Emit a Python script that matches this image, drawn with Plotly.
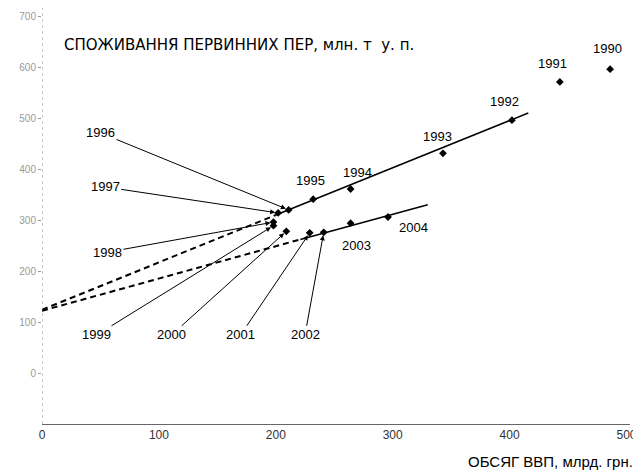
import plotly.graph_objects as go

# ---- data ----
years = [1990, 1991, 1992, 1993, 1994, 1995, 1996, 1997, 1998, 1999, 2000, 2001, 2002, 2003, 2004]
gdp = [486, 443, 402, 343, 264, 232, 211, 202, 198, 198, 209, 229, 241, 264, 296]        # млрд. грн.
energy = [596, 571, 496, 431, 361, 341, 320, 314, 296, 289, 278, 275, 276, 294, 306]     # млн. т у. п.

upper_trend_x = [0, 200, 416]
upper_trend_y = [124, 310, 510]
lower_trend_x = [0, 221, 330]
lower_trend_y = [122, 262, 330]

x_ticks = [0, 100, 200, 300, 400, 500]
y_ticks = [0, 100, 200, 300, 400, 500, 600, 700]

FONT = "Liberation Sans, Arial, sans-serif"
TFONT = "DejaVu Sans, sans-serif"

fig = go.Figure()

# dashed extensions of the trends
fig.add_trace(go.Scatter(x=upper_trend_x[:2], y=upper_trend_y[:2], mode="lines",
                         line=dict(color="black", width=2, dash="6px,4px"), hoverinfo="skip"))
fig.add_trace(go.Scatter(x=lower_trend_x[:2], y=lower_trend_y[:2], mode="lines",
                         line=dict(color="black", width=2, dash="6px,4px"), hoverinfo="skip"))
# solid trend segments
fig.add_trace(go.Scatter(x=upper_trend_x[1:], y=upper_trend_y[1:], mode="lines",
                         line=dict(color="black", width=1.5), hoverinfo="skip"))
fig.add_trace(go.Scatter(x=lower_trend_x[1:], y=lower_trend_y[1:], mode="lines",
                         line=dict(color="black", width=1.5), hoverinfo="skip"))
# points
fig.add_trace(go.Scatter(x=gdp, y=energy, mode="markers",
                         marker=dict(symbol="diamond", size=6, color="black"),
                         text=[str(y) for y in years], hoverinfo="text+x+y"))

annotations = []
# labels with arrows: year -> (label x, label y)
arrow_labels = {1996: (50, 471), 1997: (54, 365), 1998: (56, 237),
                1999: (47, 75), 2000: (111, 75), 2001: (170, 75), 2002: (225, 75)}
for yr, (lx, ly) in arrow_labels.items():
    i = years.index(yr)
    annotations.append(dict(x=gdp[i], y=energy[i], ax=lx, ay=ly, axref="x", ayref="y",
                            xref="x", yref="y", text=str(yr), showarrow=True,
                            arrowhead=2, arrowsize=1, arrowwidth=1, arrowcolor="black",
                            standoff=3, font=dict(family=FONT, size=13, color="black")))
# plain labels
plain_labels = {1990: (484, 637), 1991: (437, 608), 1992: (396, 533), 1993: (338, 463),
                1994: (270, 394), 1995: (230, 378), 2003: (269, 251), 2004: (318, 286)}
for yr, (lx, ly) in plain_labels.items():
    annotations.append(dict(x=lx, y=ly, xref="x", yref="y", text=str(yr), showarrow=False,
                            font=dict(family=FONT, size=13, color="black")))

annotations.append(dict(x=17, y=643, xref="x", yref="y", xanchor="left", yanchor="middle",
                        text="СПОЖИВАННЯ ПЕРВИННИХ ПЕР, млн. т  у. п.", showarrow=False,
                        font=dict(family=TFONT, size=15, color="black")))
annotations.append(dict(x=1.008, y=-0.091, xref="paper", yref="paper", xanchor="right",
                        yanchor="middle", text="ОБСЯГ ВВП, млрд. грн.", showarrow=False,
                        font=dict(family=FONT, size=15, color="black")))

# page body has an 8px margin: size the figure so the drawing lands where the reference has it
fig.update_layout(
    width=633, height=465,
    margin=dict(l=34, r=11, t=0, b=49),
    paper_bgcolor="white", plot_bgcolor="white",
    showlegend=False,
    annotations=annotations,
    shapes=[dict(type="line", xref="x", yref="y", x0=0, x1=0, y0=-100, y1=716,
                 line=dict(color="#999999", width=1, dash="dot"))],
    xaxis=dict(range=[0, 503], tickvals=x_ticks, ticktext=[str(v) for v in x_ticks],
               showgrid=False, zeroline=False, showline=True, linecolor="#666666",
               linewidth=1, ticks="", tickfont=dict(family=FONT, size=12, color="#333333")),
    yaxis=dict(range=[-100, 716], tickvals=y_ticks, ticktext=[str(v) for v in y_ticks],
               showgrid=False, zeroline=False, showline=False, ticks="outside",
               ticklen=3, tickcolor="#999999",
               tickfont=dict(family=FONT, size=10, color="#999999")),
)

fig.write_html("out.html")
